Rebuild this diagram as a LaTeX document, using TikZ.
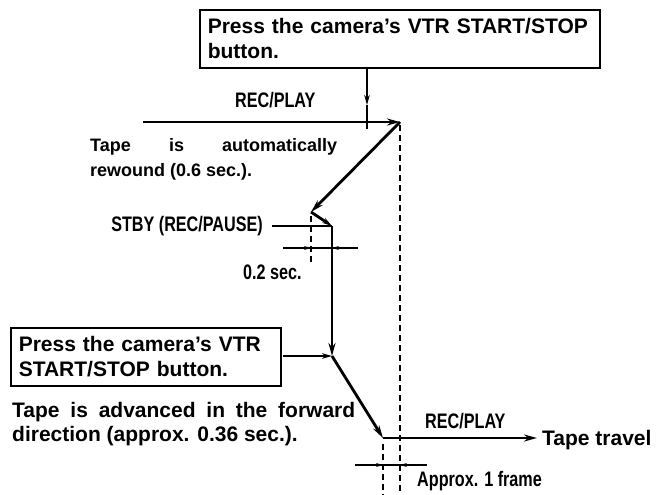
\documentclass[tikz,border=0pt]{standalone}
\usepackage{fontspec}
\setmainfont{Liberation Sans}
\newfontfamily\cnd{Liberation Sans}[FakeStretch=0.77]
\usetikzlibrary{arrows.meta}
\begin{document}
\begin{tikzpicture}[x=1pt,y=-1pt,
  heavy/.style={line width=2.8pt},
  medium/.style={line width=2pt},
  thinline/.style={line width=1.1pt},
  dashline/.style={line width=1.3pt, dash pattern=on 6pt off 4pt},
  bigtip/.style={-{Stealth[length=13pt,width=7pt]}},
  midtip/.style={-{Stealth[length=10pt,width=5.5pt]}},
  smalltip/.style={-{Stealth[length=7pt,width=4pt]}},
  boxnode/.style={draw, line width=1.6pt, anchor=north west, align=left,
    font=\bfseries\fontsize{21}{25}\selectfont, inner xsep=8pt, inner ysep=0pt},
  bigtext/.style={inner sep=0pt, align=left, font=\bfseries\fontsize{21}{24}\selectfont},
  midtext/.style={inner sep=0pt, align=left, font=\bfseries\fontsize{18}{25}\selectfont},
  lbl/.style={inner sep=0pt, font=\cnd\bfseries\fontsize{21}{24}\selectfont}]
\useasboundingbox (0,0) rectangle (661,495);

% boxes
\node[boxnode, minimum width=400pt, minimum height=58pt, text width=384pt] (topbox) at (199,9)
  {Press the camera's VTR START/STOP\\button.};
\node[boxnode, minimum width=270pt, minimum height=58pt, text width=254pt] (botbox) at (10,327)
  {\makebox[252pt][s]{Press the camera's VTR}\\START/STOP button.};

% key points
\coordinate (A) at (143,122);
\coordinate (B) at (400,122);
\coordinate (C) at (311,212);
\coordinate (D) at (332,226);
\coordinate (S) at (272,226);
\coordinate (E) at (332,356);
\coordinate (F) at (383,438);
\coordinate (G) at (537,438);
\coordinate (T0) at (367,67);
\coordinate (T1) at (367,105);
\coordinate (T2) at (367,129);
\coordinate (BX) at (283,356);

% dashed guides
\coordinate (d1a) at (400,125); \coordinate (d1b) at (400,495);
\coordinate (d2a) at (311,216); \coordinate (d2b) at (311,264);
\coordinate (d3a) at (383,444); \coordinate (d3b) at (383,495);
\draw[dashline] (d1a) -- (d1b);
\draw[dashline] (d2a) -- (d2b);
\draw[dashline] (d3a) -- (d3b);

% dimension lines
\coordinate (m1a) at (283,248); \coordinate (m1b) at (358,248);
\coordinate (m1l) at (311,248); \coordinate (m1r) at (332,248);
\draw[thinline] (m1a) -- (m1b);
\draw[thinline, smalltip] (m1a) -- (m1l);
\draw[thinline, smalltip] (m1b) -- (m1r);
\coordinate (m2a) at (355,465); \coordinate (m2b) at (427,465);
\coordinate (m2l) at (383,465); \coordinate (m2r) at (400,465);
\draw[thinline] (m2a) -- (m2b);
\draw[thinline, smalltip] (m2a) -- (m2l);
\draw[thinline, smalltip] (m2b) -- (m2r);

% main path
\draw[heavy, bigtip] (A) -- (B);
\draw[heavy, bigtip] (B) -- (C);
\draw[heavy, midtip] (C) -- (D);
\draw[medium] (S) -- (D);
\draw[heavy, bigtip] (D) -- (E);
\draw[heavy, bigtip] (E) -- (F);
\draw[heavy, bigtip] (F) -- (G);

% press arrows
\draw[medium, midtip] (T0) -- (T1);
\draw[medium] (T1) -- (T2);
\draw[medium, midtip] (BX) -- (E);

% labels
\node[lbl, anchor=base west] (rp1) at (235,107) {REC/PLAY};
\node[midtext, anchor=base west] (auto) at (90,176)
  {\makebox[247pt][s]{Tape is automatically}\\rewound (0.6 sec.).};
\node[lbl, anchor=base east] (stby) at (263,231) {STBY (REC/PAUSE)};
\node[lbl, anchor=base west] (sec) at (243,279) {0.2 sec.};
\node[bigtext, anchor=base west] (adv) at (12,441)
  {\makebox[343pt][s]{Tape is advanced in the forward}\\direction (approx. 0.36 sec.).};
\node[lbl, anchor=base west] (rp2) at (425,428) {REC/PLAY};
\node[bigtext, anchor=base west] (travel) at (542,445) {Tape travel};
\node[lbl, anchor=base west] (frame) at (417,486) {Approx. 1 frame};
\end{tikzpicture}
\end{document}
